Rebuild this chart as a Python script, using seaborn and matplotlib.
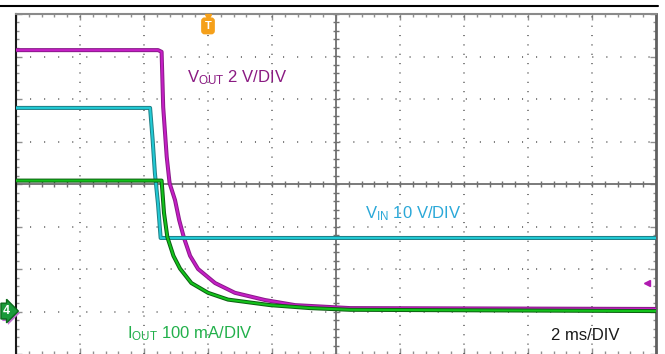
import numpy as np
import pandas as pd
import seaborn as sns
import matplotlib.pyplot as plt
from matplotlib.lines import Line2D
import matplotlib.patheffects as pe

# time in ms (2 ms/div), levels in scope divisions
t_vout = [-10, -5.56, -5.45, -5.40, -5.29, -5.20, -5.03, -4.90, -4.75, -4.56, -4.31,
          -3.78, -3.16, -2.22, -1.28, 0.44, 10]
vout = [3.15, 3.15, 3.11, 1.81, 0.64, 0.02, -0.38, -0.85, -1.27, -1.69, -2.00,
        -2.33, -2.56, -2.73, -2.85, -2.92, -2.94]

t_vin = [-10, -5.81, -5.73, -5.66, -5.56, -5.48, 10]
vin = [1.79, 1.79, 1.04, 0.26, -0.49, -1.27, -1.27]

t_iout = [-10, -5.45, -5.375, -5.27, -5.08, -4.875, -4.52, -4.0, -3.375, -2.06,
          -0.81, 0.44, 10]
iout = [0.08, 0.08, -0.68, -1.25, -1.69, -1.99, -2.33, -2.56, -2.72, -2.85,
        -2.92, -2.96, -2.99]

sns.set_style('white')
plt.rcParams['font.family'] = ['Liberation Sans', 'DejaVu Sans']
plt.rcParams['mathtext.fontset'] = 'custom'
plt.rcParams['mathtext.rm'] = 'Liberation Sans'

fig = plt.figure(figsize=(6.65, 3.54), dpi=100)
ax = fig.add_axes([16 / 665, 0, 640 / 665, 340 / 354])
ax.set_xlim(-10, 10)
ax.set_ylim(-4, 4)

# dotted graticule
for xv in [-8, -6, -4, -2, 2, 4, 6, 8]:
    ax.axvline(xv, color='#555555', lw=1.1, ls=(0, (0.7, 5.42)), zorder=1)
for yv in [-3, -2, -1, 1, 2, 3]:
    ax.axhline(yv, color='#555555', lw=1.1, ls=(0, (0.7, 8.5)), zorder=1)

# center cross with tick marks
ax.axhline(0, color='#707070', lw=1.3, zorder=1)
ax.axvline(0, color='#707070', lw=1.3, zorder=1)
ax.vlines(np.arange(-10, 10.01, 0.4), -0.08, 0.08, color='#707070', lw=1, zorder=1)
ax.hlines(np.arange(-4, 4.01, 0.2), -0.1, 0.1, color='#707070', lw=1, zorder=1)

# traces: dark edge under a bright core
traces = [
    (t_vout, vout, '#8a1a8a', '#c51fc5'),
    (t_vin, vin, '#1f7f85', '#22c9d4'),
    (t_iout, iout, '#0c5e12', '#13c21b'),
]
for i, (tx, ty, dark, bright) in enumerate(traces):
    df = pd.DataFrame({'t': tx, 'v': ty})
    sns.lineplot(data=df, x='t', y='v', color=dark, lw=2.9, estimator=None,
                 ax=ax, zorder=3 + i)
    sns.lineplot(data=df, x='t', y='v', color=bright, lw=1.5, estimator=None,
                 ax=ax, zorder=3 + i)

ax.set_xlabel('')
ax.set_ylabel('')
ax.set_xticks(np.arange(-10, 10.1, 2))
ax.set_xticks(np.arange(-10, 10.1, 0.4), minor=True)
ax.set_yticks(np.arange(-4, 4.1, 1))
ax.set_yticks(np.arange(-4, 4.1, 0.2), minor=True)
ax.tick_params(which='both', direction='in', top=True, right=True, bottom=True,
               left=True, labelbottom=False, labelleft=False, color='#909090', width=1)
ax.tick_params(which='major', length=4)
ax.tick_params(which='minor', length=2.5)
ax.spines['left'].set_color('#1a1a1a')
ax.spines['left'].set_linewidth(1.5)
ax.spines['top'].set_color('#8a8a8a')
ax.spines['top'].set_linewidth(1.5)
ax.spines['right'].set_color('#606060')
ax.spines['right'].set_linewidth(2)
ax.spines['bottom'].set_visible(False)

# labels
ax.text(-4.66, 2.4, r'$\mathrm{V_{OUT}}$ 2 V/DIV', color='#8a1a82', fontsize=12, va='baseline')
ax.text(0.9, -0.8, r'$\mathrm{V_{IN}}$ 10 V/DIV', color='#2aa8d8', fontsize=12, va='baseline')
ax.text(-6.53, -3.62, r'$\mathrm{I_{OUT}}$ 100 mA/DIV', color='#22b04b', fontsize=12, va='baseline')
ax.text(6.72, -3.67, '2 ms/DIV', color='#1a1a1a', fontsize=12, va='baseline')

# trigger marker, channel reference markers
ax.plot([-4], [3.92], marker='v', color='#f5a01a', ms=5, clip_on=False, zorder=6)
ax.text(-4, 3.72, 'T', ha='center', va='center', color='white', fontsize=8,
        fontweight='bold', zorder=7, clip_on=False,
        bbox=dict(boxstyle='round,pad=0.25', fc='#f5a01a', ec='#f5a01a'))
ch4 = ax.text(-10.3, -2.99, '4', ha='center', va='center', color='white', fontsize=9,
              fontweight='bold', clip_on=False, zorder=7,
              bbox=dict(boxstyle='rarrow,pad=0.15', fc='#1a9a3a', ec='#0a6a1a'))
ch4.get_bbox_patch().set_path_effects([
    pe.SimplePatchShadow(offset=(1, -1.5), shadow_rgbFace='#c070d0', alpha=1),
    pe.Normal(),
])
ax.plot([9.72], [-2.33], marker='<', color='#b01ab0', ms=5, clip_on=False, zorder=6)

fig.add_artist(Line2D([0, 658 / 665], [1 - 6 / 354, 1 - 6 / 354], color='black', lw=1.5))

fig.savefig('out.png', dpi=100)
